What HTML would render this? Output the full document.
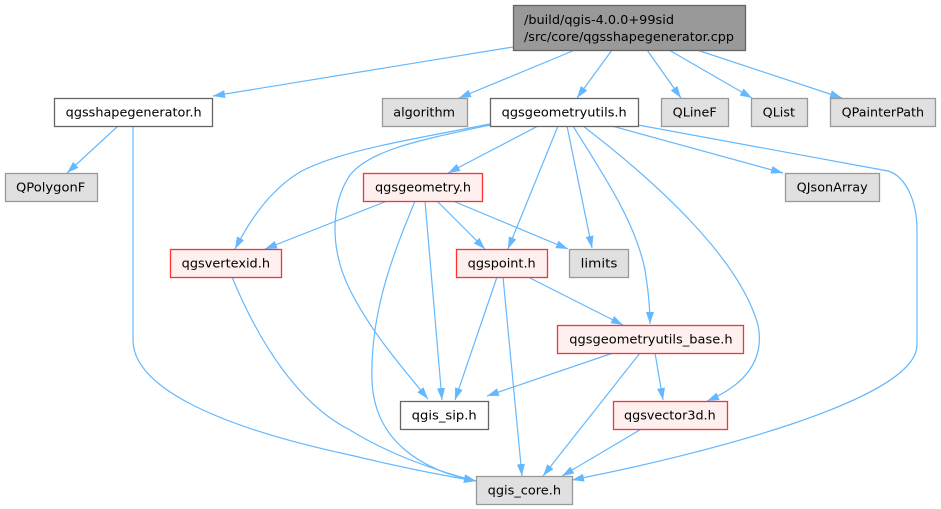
<!DOCTYPE html>
<html><head><meta charset="utf-8"><style>
html,body{margin:0;padding:0;background:#fff;}
svg{display:block;}
text{font-family:"DejaVu Sans","Liberation Sans",sans-serif;font-size:12.5px;fill:#000;}
</style></head><body>
<svg width="941" height="509" viewBox="0 0 941 509" xmlns="http://www.w3.org/2000/svg">
<defs>
<marker id="a" markerUnits="userSpaceOnUse" markerWidth="12" markerHeight="9" viewBox="0 0 12 8" refX="12" refY="4" orient="auto">
<path d="M0,0 L12,4 L0,8 z" fill="#63b8ff"/>
</marker>
</defs>
<g fill="none" stroke="#63b8ff" stroke-width="1.2" marker-end="url(#a)">
<path d="M513,47 L213,96"/>
<path d="M575,50 L459,98"/>
<path d="M612,50 L577,98"/>
<path d="M647,50 L681,98"/>
<path d="M669,50 L752,98"/>
<path d="M697,50 L842,98"/>
<path d="M118,126 L67,173"/>
<path d="M133,126 V340 C133,385 210,425 350,455 C400,467 440,475 476,481"/>
<path d="M232,277 C260,345 300,405 350,430 C390,455 440,472 476,481"/>
<path d="M490,124 C420,138 340,150 300,172 C270,190 250,220 235,249"/>
<path d="M490,125 C420,140 370,150 350,175 C330,205 330,250 350,290 C370,330 400,365 428,399"/>
<path d="M538,126 L448,173"/>
<path d="M558,126 L508,249"/>
<path d="M567,126 L592,248"/>
<path d="M573,126 C600,170 635,220 645,270 C648,290 650,305 650,324"/>
<path d="M583,126 C660,185 740,260 758,325 C765,360 745,385 707,401"/>
<path d="M612,126 L783,173"/>
<path d="M638,125 L888,171 C905,176 917,200 917,230 V345 C917,400 700,455 572,480"/>
<path d="M387,201 L265,249"/>
<path d="M415,201 C395,250 370,310 372,380 C374,440 420,470 476,481"/>
<path d="M425,201 L442,400"/>
<path d="M437,201 L485,249"/>
<path d="M453,201 L568,249"/>
<path d="M497,277 L455,400"/>
<path d="M503,277 L522,476"/>
<path d="M528,277 L623,325"/>
<path d="M613,353 L487,396"/>
<path d="M655,353 L663,400"/>
<path d="M640,353 L543,476"/>
<path d="M643,428 L562,476"/>
</g>
<g stroke-width="1.3">
<rect x="513.5" y="5.5" width="232" height="45" fill="#999999" stroke="#666666"/>
<rect x="54.5" y="98.5" width="158" height="28" fill="#ffffff" stroke="#666666"/>
<rect x="382.5" y="98.5" width="85" height="28" fill="#e0e0e0" stroke="#999999"/>
<rect x="490.5" y="98.5" width="148" height="28" fill="#ffffff" stroke="#666666"/>
<rect x="661.5" y="98.5" width="67" height="28" fill="#e0e0e0" stroke="#999999"/>
<rect x="751.5" y="98.5" width="56" height="28" fill="#e0e0e0" stroke="#999999"/>
<rect x="830.5" y="98.5" width="105" height="28" fill="#e0e0e0" stroke="#999999"/>
<rect x="5.5" y="173.5" width="92" height="28" fill="#e0e0e0" stroke="#999999"/>
<rect x="363.5" y="173.5" width="119" height="28" fill="#fff0f0" stroke="#ff3030"/>
<rect x="785.5" y="173.5" width="94" height="28" fill="#e0e0e0" stroke="#999999"/>
<rect x="170.5" y="249.5" width="111" height="28" fill="#fff0f0" stroke="#ff3030"/>
<rect x="456.5" y="249.5" width="91" height="28" fill="#fff0f0" stroke="#ff3030"/>
<rect x="569.5" y="249.5" width="59" height="28" fill="#e0e0e0" stroke="#999999"/>
<rect x="557.5" y="325.5" width="186" height="28" fill="#fff0f0" stroke="#ff3030"/>
<rect x="400.5" y="401.5" width="88" height="28" fill="#ffffff" stroke="#666666"/>
<rect x="613.5" y="401.5" width="114" height="28" fill="#fff0f0" stroke="#ff3030"/>
<rect x="476.5" y="476.5" width="96" height="28" fill="#e0e0e0" stroke="#999999"/>
</g>
<text x="524" y="24" textLength="150" lengthAdjust="spacingAndGlyphs">/build/qgis-4.0.0+99sid</text>
<text x="524" y="41" textLength="210" lengthAdjust="spacingAndGlyphs">/src/core/qgsshapegenerator.cpp</text>
<text x="65.7" y="116.5" textLength="136" lengthAdjust="spacingAndGlyphs">qgsshapegenerator.h</text>
<text x="393.3" y="116.5" textLength="61.7" lengthAdjust="spacingAndGlyphs">algorithm</text>
<text x="501.7" y="116.5" textLength="125" lengthAdjust="spacingAndGlyphs">qgsgeometryutils.h</text>
<text x="672.7" y="116.5" textLength="44" lengthAdjust="spacingAndGlyphs">QLineF</text>
<text x="762.7" y="116.5" textLength="32.3" lengthAdjust="spacingAndGlyphs">QList</text>
<text x="841.7" y="116.5" textLength="82.3" lengthAdjust="spacingAndGlyphs">QPainterPath</text>
<text x="16" y="191.5" textLength="69.3" lengthAdjust="spacingAndGlyphs">QPolygonF</text>
<text x="375" y="191.5" textLength="96" lengthAdjust="spacingAndGlyphs">qgsgeometry.h</text>
<text x="796.7" y="191.5" textLength="71" lengthAdjust="spacingAndGlyphs">QJsonArray</text>
<text x="181.7" y="267.5" textLength="88.3" lengthAdjust="spacingAndGlyphs">qgsvertexid.h</text>
<text x="467.7" y="267.5" textLength="68" lengthAdjust="spacingAndGlyphs">qgspoint.h</text>
<text x="580.7" y="267.5" textLength="36.7" lengthAdjust="spacingAndGlyphs">limits</text>
<text x="569.3" y="343.5" textLength="163.3" lengthAdjust="spacingAndGlyphs">qgsgeometryutils_base.h</text>
<text x="411.7" y="419.5" textLength="65" lengthAdjust="spacingAndGlyphs">qgis_sip.h</text>
<text x="624" y="419.5" textLength="91.7" lengthAdjust="spacingAndGlyphs">qgsvector3d.h</text>
<text x="487.7" y="494.5" textLength="73.3" lengthAdjust="spacingAndGlyphs">qgis_core.h</text>
</svg>
</body></html>
